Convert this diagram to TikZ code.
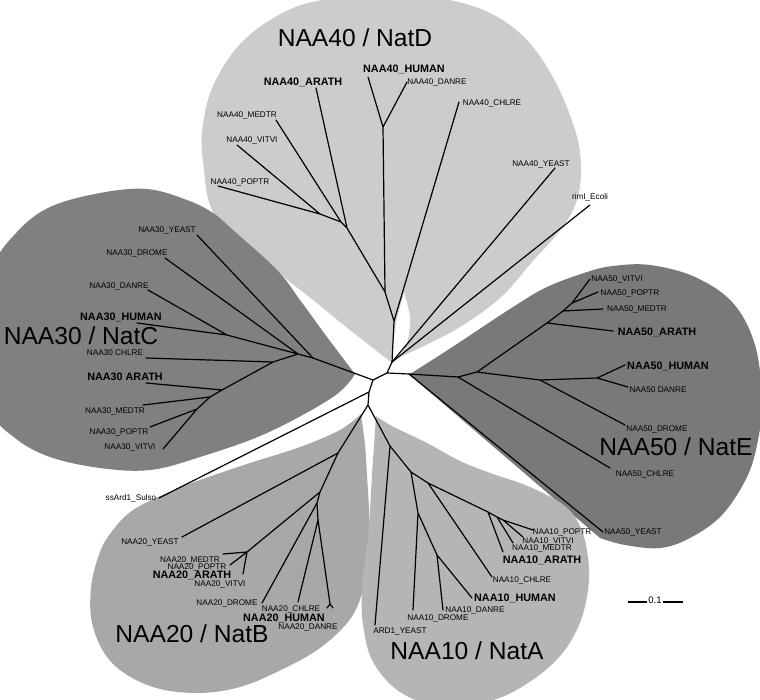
\documentclass[tikz,border=0pt]{standalone}
\usepackage{fontspec}
\setmainfont{Liberation Sans}
\definecolor{cD}{gray}{0.8}
\definecolor{cC}{gray}{0.5}
\definecolor{cE}{gray}{0.475}
\definecolor{cB}{gray}{0.66}
\definecolor{cA}{gray}{0.71}
\begin{document}
\begin{tikzpicture}[x=1pt,y=-1pt,
 br/.style={line width=1.2pt,line cap=round,line join=round},
 lab/.style={font=\fontsize{8.2}{9}\selectfont,inner sep=0pt,anchor=base,yshift=-2.9pt},
 blab/.style={font=\fontsize{10.8}{12}\selectfont\bfseries,inner sep=0pt,anchor=base,yshift=-3.9pt},
 glab/.style={font=\fontsize{24.6}{28}\selectfont,inner sep=0pt,anchor=base,yshift=-8.8pt}]
\useasboundingbox (0,0) rectangle (760,700);
\begin{scope}
\clip (0,0) rectangle (760,700);
% NAA40 blob
\fill[cD] plot[smooth,tension=0.6] coordinates {(391,362) (350,330) (313,300) (290,282) (268,264) (228,232) (210,205) (204,170) (202,133) (213,86) (244,40) (293,8) (345,-3) (400,-5) (445,-1) (490,13) (527,40) (556,83) (576,133) (581,168) (577,200) (562,228) (532,262) (500,298) (455,330) (398,358)}
 -- plot[smooth,tension=0.6] coordinates {(398,358) (407,343) (410,318) (404,292)} -- (396,322) -- cycle;
% NAA30 blob
\fill[cC] plot[smooth,tension=0.6] coordinates {(355,374) (327,337) (300,300) (277,270) (233,230) (213,213) (187,200) (147,189) (100,193) (50,207) (17,232) (-8,270) (-15,340) (-8,410) (15,438) (50,457) (100,468) (150,470) (200,457) (267,433) (333,397) (355,374)} -- cycle;
% NAA50 blob
\fill[cE] plot[smooth,tension=0.6] coordinates {(410,374) (440,355) (463,340) (513,307) (547,287) (587,272) (613,266) (650,265) (695,277) (733,303) (755,345) (762,400) (758,440) (747,477) (722,515) (690,538) (660,548) (625,545) (600,538)} -- (411,376) -- cycle;
% NAA20 blob
\fill[cB] plot[smooth,tension=0.6] coordinates {(361,414) (365,445) (367,475) (369,510) (369,540) (367,570) (361,597) (348,622) (320,648) (285,668) (240,687) (195,693) (150,686) (112,663) (93,627) (91,588) (100,552) (113,530) (133,510) (167,493) (200,480) (250,463) (300,447) (340,430) (361,414)} -- cycle;
% NAA10 blob
\fill[cA] plot[smooth,tension=0.6] coordinates {(376,416) (392,426) (427,443) (460,461) (493,474) (520,483) (545,494) (565,506) (578,522) (586,545) (589,580) (581,620) (561,655) (528,683) (490,701) (440,706) (400,692) (373,662) (363,625) (362,590) (365,560) (368,537) (370,510) (372,475) (374,445) (376,416)} -- cycle;
\end{scope}

% ---------- tree coordinates ----------
\coordinate (A) at (373,380);
\coordinate (B) at (387,373);
\coordinate (S) at (369,392);
\coordinate (C) at (368,405);
\coordinate (R) at (392,362);
\coordinate (tEcoli) at (590,205);
\coordinate (tSulso) at (159,498);
% NAA40
\coordinate (n40b) at (394,321);
\coordinate (n40c) at (385,292);
\coordinate (n40hd) at (383,127);
\coordinate (n40p1) at (347,228);
\coordinate (n40p2) at (341,222);
\coordinate (n40p3) at (320,214);
\coordinate (t40yeast) at (555,168);
\coordinate (t40chlre) at (459,102);
\coordinate (t40human) at (368,77);
\coordinate (t40danre) at (407,82);
\coordinate (t40arath) at (316,88);
\coordinate (t40medtr) at (276,120);
\coordinate (t40vitvi) at (237,145);
\coordinate (t40poptr) at (218,186);
% NAA50
\coordinate (n50a) at (409,374);
\coordinate (n50b) at (458,377);
\coordinate (n50c) at (477,372);
\coordinate (n50d) at (540,380);
\coordinate (n50hd) at (597,378);
\coordinate (n50p) at (547,323);
\coordinate (n50p2) at (563,311);
\coordinate (n50p3) at (572,303);
\coordinate (t50yeast) at (603,532);
\coordinate (t50chlre) at (610,468);
\coordinate (t50drome) at (625,425);
\coordinate (t50human) at (625,365);
\coordinate (t50danre) at (628,387);
\coordinate (t50arath) at (613,331);
\coordinate (t50medtr) at (603,309);
\coordinate (t50poptr) at (598,292);
\coordinate (t50vitvi) at (590,279);
% NAA30
\coordinate (n30r) at (313,358);
\coordinate (n30x) at (298,354);
\coordinate (n30hd) at (227,335);
\coordinate (n30c) at (273,362);
\coordinate (n30p1) at (222,390);
\coordinate (n30p2) at (210,397);
\coordinate (n30p3) at (197,409);
\coordinate (t30yeast) at (197,235);
\coordinate (t30drome) at (165,258);
\coordinate (t30danre) at (148,290);
\coordinate (t30human) at (137,323);
\coordinate (t30chlre) at (146,358);
\coordinate (t30arath) at (146,383);
\coordinate (t30medtr) at (143,405);
\coordinate (t30poptr) at (150,427);
\coordinate (t30vitvi) at (163,449);
% NAA20
\coordinate (n20a) at (338,453);
\coordinate (n20b) at (320,492);
\coordinate (n20c) at (317,503);
\coordinate (n20d) at (318,520);
\coordinate (n20p) at (247,552);
\coordinate (n20hd) at (330,604);
\coordinate (t20yeast) at (182,537);
\coordinate (t20medtr) at (223,554);
\coordinate (t20poptr) at (230,565);
\coordinate (t20vitvi) at (243,574);
\coordinate (t20drome) at (262,603);
\coordinate (t20chlre) at (298,602);
\coordinate (t20human) at (327,608);
\coordinate (t20danre) at (333,608);
% NAA10
\coordinate (n10a) at (390,446);
\coordinate (n10c) at (411,472);
\coordinate (n10d) at (418,513);
\coordinate (n10e) at (437,555);
\coordinate (n10f) at (428,483);
\coordinate (n10g) at (488,512);
\coordinate (n10h) at (497,517);
\coordinate (n10i) at (503,520);
\coordinate (t10ard) at (375,625);
\coordinate (t10drome) at (413,610);
\coordinate (t10danre) at (443,610);
\coordinate (t10human) at (472,598);
\coordinate (t10chlre) at (492,577);
\coordinate (t10arath) at (503,552);
\coordinate (t10medtr) at (513,543);
\coordinate (t10vitvi) at (523,537);
\coordinate (t10poptr) at (533,530);

% ---------- branches ----------
\draw[br] (A)--(B) (A)--(S) (S)--(C) (B)--(R) (R)--(tEcoli) (S)--(tSulso)
 (A)--(n30r) (B)--(n50a) (C)--(n20a) (C)--(n10a);
% NAA40
\draw[br] (R)--(t40yeast) (R)--(n40b) (n40b)--(t40chlre) (n40b)--(n40c)
 (n40c)--(n40hd) (n40hd)--(t40human) (n40hd)--(t40danre)
 (n40c)--(n40p1) (n40p1)--(t40arath) (n40p1)--(n40p2) (n40p2)--(t40medtr)
 (n40p2)--(n40p3) (n40p3)--(t40vitvi) (n40p3)--(t40poptr);
% NAA50
\draw[br] (n50a)--(t50yeast) (n50a)--(n50b) (n50b)--(t50chlre) (n50b)--(n50c)
 (n50c)--(n50d) (n50d)--(t50drome) (n50d)--(n50hd) (n50hd)--(t50human) (n50hd)--(t50danre)
 (n50c)--(n50p) (n50p)--(t50arath) (n50p)--(n50p2) (n50p2)--(t50medtr)
 (n50p2)--(n50p3) (n50p3)--(t50poptr) (n50p3)--(t50vitvi);
% NAA30
\draw[br] (n30r)--(t30yeast) (n30r)--(n30x) (n30x)--(t30drome) (n30x)--(n30hd)
 (n30hd)--(t30danre) (n30hd)--(t30human) (n30x)--(n30c) (n30c)--(t30chlre)
 (n30c)--(n30p1) (n30p1)--(t30arath) (n30p1)--(n30p2) (n30p2)--(t30medtr)
 (n30p2)--(n30p3) (n30p3)--(t30poptr) (n30p3)--(t30vitvi);
% NAA20
\draw[br] (n20a)--(t20yeast) (n20a)--(n20b) (n20b)--(n20p) (n20p)--(t20medtr)
 (n20p)--(t20poptr) (n20p)--(t20vitvi) (n20b)--(n20c) (n20c)--(t20drome)
 (n20c)--(n20d) (n20d)--(t20chlre) (n20d)--(n20hd) (n20hd)--(t20human) (n20hd)--(t20danre);
% NAA10
\draw[br] (n10a)--(t10ard) (n10a)--(n10c) (n10c)--(n10d) (n10d)--(t10drome)
 (n10d)--(n10e) (n10e)--(t10danre) (n10e)--(t10human) (n10c)--(n10f)
 (n10f)--(t10chlre) (n10f)--(n10g) (n10g)--(t10arath) (n10g)--(n10h)
 (n10h)--(t10medtr) (n10h)--(n10i) (n10i)--(t10vitvi) (n10i)--(t10poptr);

% ---------- labels ----------
\node[glab] (gD) at (355,38) {NAA40 / NatD};
\node[glab] (gC) at (81,335.5) {NAA30 / NatC};
\node[glab] (gE) at (676,447) {NAA50 / NatE};
\node[glab] (gB) at (192,634) {NAA20 / NatB};
\node[glab] (gA) at (467,651) {NAA10 / NatA};

\node[blab] (l40arath) at (303,82) {NAA40\_ARATH};
\node[blab] (l40human) at (404,69) {NAA40\_HUMAN};
\node[lab] (l40danre) at (437,82) {NAA40\_DANRE};
\node[lab] (l40chlre) at (492,103) {NAA40\_CHLRE};
\node[lab] (l40medtr) at (247,115) {NAA40\_MEDTR};
\node[lab] (l40vitvi) at (252,140) {NAA40\_VITVI};
\node[lab] (l40poptr) at (240,182) {NAA40\_POPTR};
\node[lab] (l40yeast) at (541,164) {NAA40\_YEAST};
\node[lab] (lEcoli) at (590,197) {rimI\_Ecoli};

\node[lab] (l30yeast) at (167,230) {NAA30\_YEAST};
\node[lab] (l30drome) at (137,253) {NAA30\_DROME};
\node[lab] (l30danre) at (119,286) {NAA30\_DANRE};
\node[blab] (l30human) at (121,317) {NAA30\_HUMAN};
\node[lab] (l30chlre) at (115,353) {NAA30 CHLRE};
\node[blab] (l30arath) at (125,377) {NAA30 ARATH};
\node[lab] (l30medtr) at (115,411) {NAA30\_MEDTR};
\node[lab] (l30poptr) at (119,432) {NAA30\_POPTR};
\node[lab] (l30vitvi) at (130,447) {NAA30\_VITVI};
\node[lab] (lSulso) at (131,498) {ssArd1\_Sulso};

\node[lab] (l50vitvi) at (617,279) {NAA50\_VITVI};
\node[lab] (l50poptr) at (630,293) {NAA50\_POPTR};
\node[lab] (l50medtr) at (637,309) {NAA50\_MEDTR};
\node[blab] (l50arath) at (657,332) {NAA50\_ARATH};
\node[blab] (l50human) at (668,366) {NAA50\_HUMAN};
\node[lab] (l50danre) at (658,390) {NAA50 DANRE};
\node[lab] (l50drome) at (657,429) {NAA50\_DROME};
\node[lab] (l50chlre) at (645,474) {NAA50\_CHLRE};
\node[lab] (l50yeast) at (633,532) {NAA50\_YEAST};

\node[lab] (l20yeast) at (150,542) {NAA20\_YEAST};
\node[lab] (l20medtr) at (190,560) {NAA20\_MEDTR};
\node[lab] (l20poptr) at (197,567) {NAA20\_POPTR};
\node[blab] (l20arath) at (192,575) {NAA20\_ARATH};
\node[lab] (l20vitvi) at (220,584) {NAA20\_VITVI};
\node[lab] (l20drome) at (227,603) {NAA20\_DROME};
\node[lab] (l20chlre) at (291,609) {NAA20\_CHLRE};
\node[blab] (l20human) at (284,618) {NAA20\_HUMAN};
\node[lab] (l20danre) at (308,627) {NAA20\_DANRE};

\node[lab] (l10poptr) at (562,532) {NAA10\_POPTR};
\node[lab] (l10vitvi) at (548,541) {NAA10\_VITVI};
\node[lab] (l10medtr) at (542,548) {NAA10\_MEDTR};
\node[blab] (l10arath) at (542,560) {NAA10\_ARATH};
\node[lab] (l10chlre) at (522,580) {NAA10\_CHLRE};
\node[blab] (l10human) at (515,598) {NAA10\_HUMAN};
\node[lab] (l10danre) at (475,610) {NAA10\_DANRE};
\node[lab] (l10drome) at (438,618) {NAA10\_DROME};
\node[lab] (l10ard) at (400,631) {ARD1\_YEAST};

% scale bar
\coordinate (sb1) at (628,602);
\coordinate (sb2) at (647,602);
\coordinate (sb3) at (663,602);
\coordinate (sb4) at (683,602);
\draw[line width=1.1pt] (sb1)--(sb2) (sb3)--(sb4);
\node[lab,font=\fontsize{9.5}{10}\selectfont,yshift=-0.5pt] (sbl) at (655,600) {0.1};
\end{tikzpicture}
\end{document}
